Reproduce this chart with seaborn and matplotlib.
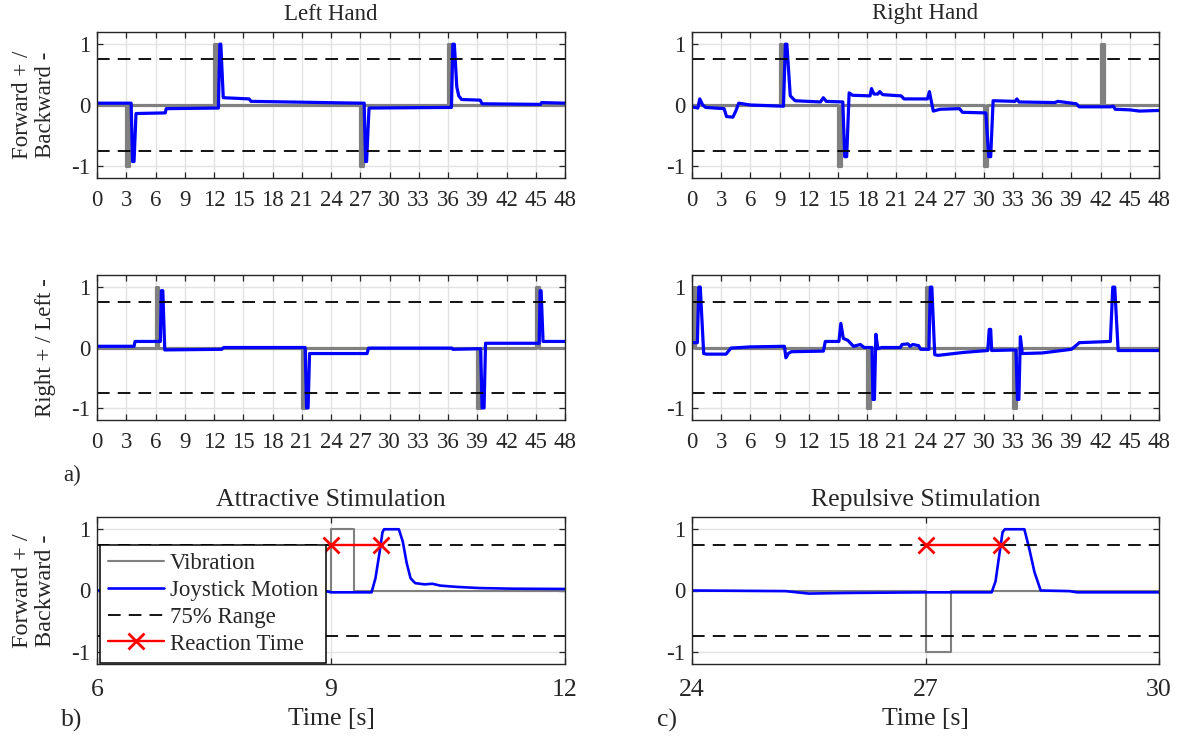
import matplotlib
matplotlib.use("Agg")
import matplotlib.pyplot as plt
import numpy as np
import seaborn as sns

# Stimulus level and reference band
RANGE_LEVEL = 0.75

# a) Left hand, forward/backward
LH_FB_VIB_T = [0, 3, 3, 3.3, 3.3, 12, 12, 12.3, 12.3, 27, 27, 27.3, 27.3, 36, 36, 36.3, 36.3, 48]
LH_FB_VIB_V = [0, 0, -1, -1, 0, 0, 1, 1, 0, 0, -1, -1, 0, 0, 1, 1, 0, 0]
LH_FB_JOY_T = [0, 3.5, 3.65, 3.8, 4.0, 7.0, 7.1, 12.45, 12.6, 12.7, 12.95, 15.6, 15.8, 27.0,
               27.4, 27.55, 27.65, 27.9, 36.35, 36.5, 36.65, 36.9, 37.1, 37.4, 39.3, 39.5,
               45.5, 45.6, 48]
LH_FB_JOY_V = [0.03, 0.03, -0.93, -0.93, -0.14, -0.13, -0.06, -0.05, 1.0, 1.0, 0.12, 0.1, 0.06,
               0.03, 0.03, -0.93, -0.93, -0.05, -0.04, 1.0, 1.0, 0.3, 0.15, 0.09, 0.08, 0.02,
               0.01, 0.04, 0.03]

# a) Right hand, forward/backward
RH_FB_VIB_T = [0, 9, 9, 9.3, 9.3, 15, 15, 15.3, 15.3, 30, 30, 30.3, 30.3, 42, 42, 42.3, 42.3, 48]
RH_FB_VIB_V = [0, 0, 1, 1, 0, 0, -1, -1, 0, 0, -1, -1, 0, 0, 1, 1, 0, 0]
RH_FB_JOY_T = [0, 0.6, 0.8, 1.1, 1.4, 3.3, 3.55, 4.2, 4.5, 4.8, 6.0, 9.4, 9.6, 9.75, 10.1, 10.6,
               13.2, 13.5, 13.8, 15.5, 15.7, 15.9, 16.15, 16.5, 18.3, 18.45, 18.7, 19.1, 19.3,
               19.6, 21.5, 21.8, 24.2, 24.4, 24.55, 24.8, 25.5, 27.5, 27.8, 30.2, 30.5, 30.7,
               30.95, 33.2, 33.4, 33.6, 37.3, 37.6, 39.5, 39.8, 43.0, 43.3, 43.5, 45.0, 46.0, 48]
RH_FB_JOY_V = [-0.03, -0.05, 0.1, 0.0, -0.04, -0.06, -0.19, -0.2, -0.1, 0.03, 0.0, -0.02, 1.0,
               1.0, 0.15, 0.07, 0.05, 0.12, 0.06, 0.05, -0.85, -0.85, 0.2, 0.16, 0.15, 0.27,
               0.18, 0.18, 0.22, 0.17, 0.15, 0.1, 0.1, 0.22, 0.1, -0.1, -0.07, -0.06, -0.12,
               -0.13, -0.85, -0.85, 0.07, 0.06, 0.1, 0.05, 0.04, 0.06, 0.02, -0.03, -0.03,
               -0.02, -0.07, -0.08, -0.1, -0.09]

# a) Left hand, right/left
LH_RL_VIB_T = [0, 6, 6, 6.3, 6.3, 21, 21, 21.3, 21.3, 39, 39, 39.3, 39.3, 45, 45, 45.3, 45.3, 48]
LH_RL_VIB_V = [0, 0, 1, 1, 0, 0, -1, -1, 0, 0, -1, -1, 0, 0, 1, 1, 0, 0]
LH_RL_JOY_T = [0, 3.8, 3.9, 6.5, 6.6, 6.75, 6.95, 12.8, 13.0, 21.35, 21.5, 21.65, 21.8, 27.7,
               27.85, 36.4, 36.5, 39.35, 39.5, 39.7, 39.85, 45.35, 45.45, 45.55, 45.75, 48]
LH_RL_JOY_V = [0.02, 0.02, 0.1, 0.1, 0.94, 0.94, -0.04, -0.03, 0.0, 0.0, -1.0, -1.0, -0.1, -0.1,
               -0.01, -0.01, -0.03, -0.02, -1.0, -1.0, 0.07, 0.07, 0.94, 0.94, 0.1, 0.1]

# a) Right hand, right/left
RH_RL_VIB_T = [0, 0, 0.3, 0.3, 18, 18, 18.3, 18.3, 24, 24, 24.3, 24.3, 33, 33, 33.3, 33.3, 48]
RH_RL_VIB_V = [0, 1, 1, 0, 0, -1, -1, 0, 0, 1, 1, 0, 0, -1, -1, 0, 0]
RH_RL_JOY_T = [0, 0.55, 0.7, 0.85, 1.2, 1.5, 3.5, 4.0, 6.0, 9.5, 9.65, 9.9, 10.2, 13.5, 13.7,
               15.1, 15.3, 15.55, 16.0, 16.6, 17.3, 17.7, 18.5, 18.6, 18.75, 18.9, 19.1, 19.5,
               21.4, 21.6, 22.2, 22.4, 22.7, 23.3, 23.5, 24.35, 24.5, 24.65, 24.95, 25.3, 28.0,
               30.4, 30.55, 30.7, 30.8, 33.3, 33.45, 33.6, 33.75, 33.95, 36.0, 39.0, 39.6, 39.8,
               43.0, 43.25, 43.45, 43.8, 48]
RH_RL_JOY_V = [0.08, 0.08, 1.0, 1.0, -0.1, -0.11, -0.11, -0.01, 0.01, 0.02, -0.17, -0.1, -0.07,
               -0.06, 0.1, 0.1, 0.4, 0.15, 0.12, 0.02, 0.05, 0.0, 0.0, -0.86, -0.86, 0.22, -0.02,
               0.0, 0.0, 0.05, 0.06, 0.02, 0.05, 0.03, -0.03, -0.03, 1.0, 1.0, -0.12, -0.13,
               -0.08, -0.05, 0.3, 0.3, -0.05, -0.04, -0.86, -0.86, 0.18, -0.1, -0.09, -0.03,
               0.05, 0.08, 0.1, 1.0, 1.0, -0.05, -0.05]

# b) Attractive stimulation (zoom)
ATT_VIB_T = [6, 9, 9, 9.3, 9.3, 12]
ATT_VIB_V = [0, 0, 1, 1, 0, 0]
ATT_JOY_T = [6, 8.9, 9.0, 9.52, 9.57, 9.62, 9.66, 9.68, 9.87, 9.92, 9.97, 10.02, 10.08, 10.2,
             10.3, 10.4, 10.6, 10.9, 11.3, 12]
ATT_JOY_V = [0.0, 0.0, -0.03, -0.03, 0.2, 0.6, 0.95, 1.0, 1.0, 0.8, 0.45, 0.2, 0.12, 0.1, 0.11,
             0.08, 0.06, 0.04, 0.03, 0.025]
ATT_RT_T = [9.0, 9.64]

# c) Repulsive stimulation (zoom)
REP_VIB_T = [24, 27, 27, 27.33, 27.33, 30]
REP_VIB_V = [0, 0, -1, -1, 0, 0]
REP_JOY_T = [24, 25.2, 25.5, 26.0, 27.0, 27.85, 27.9, 27.95, 27.99, 28.02, 28.27, 28.33, 28.4,
             28.48, 28.85, 28.95, 30]
REP_JOY_V = [0.0, -0.01, -0.05, -0.04, -0.03, -0.03, 0.15, 0.6, 0.95, 1.0, 1.0, 0.7, 0.3, 0.0,
             -0.01, -0.03, -0.03]
REP_RT_T = [27.0, 27.97]

FULL_TICKS = list(range(0, 49, 3))
ATT_TICKS = [6, 9, 12]
REP_TICKS = [24, 27, 30]

GRAY = "#808080"
BLUE = "#0000ff"
RED = "#ff0000"
AXCOL = "#262626"
FS = 16.5
FS_BIG = 18.5

sns.set_theme(style="ticks")
plt.rcParams["font.family"] = ["Liberation Serif", "DejaVu Serif"]
plt.rcParams["axes.unicode_minus"] = False


def style_axis(ax, xticks, xlim, xfs, xpad):
    ax.set_xlim(*xlim)
    ax.set_ylim(-1.2, 1.2)
    ax.set_xticks(xticks)
    ax.set_yticks([-1, 0, 1])
    ax.set_yticklabels(["-1", "0", "1"])
    ax.grid(True, color="#e2e2e2", linewidth=1.0)
    ax.set_axisbelow(True)
    ax.tick_params(direction="in", top=True, right=True, length=4, width=0.9,
                   color=AXCOL, labelcolor=AXCOL, labelsize=FS)
    ax.tick_params(axis="x", pad=xpad, labelsize=xfs)
    ax.tick_params(axis="y", pad=5)
    for sp in ax.spines.values():
        sp.set_color(AXCOL)
        sp.set_linewidth(1.0)
    ax.set_xlabel("")
    ax.set_ylabel("")


def draw_panel(ax, vib_t, vib_v, joy_t, joy_v, xticks, xlim, lw_vib, lw_joy,
               xfs=FS, xpad=9, labels=False):
    sns.lineplot(x=vib_t, y=vib_v, ax=ax, color=GRAY, linewidth=lw_vib,
                 estimator=None, sort=False, label="Vibration" if labels else None)
    sns.lineplot(x=joy_t, y=joy_v, ax=ax, color=BLUE, linewidth=lw_joy,
                 estimator=None, sort=False, label="Joystick Motion" if labels else None)
    for i, lvl in enumerate([RANGE_LEVEL, -RANGE_LEVEL]):
        ax.axhline(lvl, color="black", linewidth=1.3, dashes=(7, 4.5),
                   label="75% Range" if (labels and i == 0) else None)
    style_axis(ax, xticks, xlim, xfs, xpad)


fig = plt.figure(figsize=(11.78, 7.36), dpi=100)
W, H = 1178, 736


def add_ax(left, top, right, bottom):
    return fig.add_axes([left / W, 1 - bottom / H, (right - left) / W, (bottom - top) / H])


ax_lfb = add_ax(97, 32, 565, 178)
ax_rfb = add_ax(692, 32, 1159, 178)
ax_lrl = add_ax(97, 275, 565, 420)
ax_rrl = add_ax(692, 275, 1159, 420)
ax_att = add_ax(97, 517, 565, 664)
ax_rep = add_ax(692, 517, 1159, 664)

draw_panel(ax_lfb, LH_FB_VIB_T, LH_FB_VIB_V, LH_FB_JOY_T, LH_FB_JOY_V, FULL_TICKS, (0, 48), 2.3, 2.3)
draw_panel(ax_rfb, RH_FB_VIB_T, RH_FB_VIB_V, RH_FB_JOY_T, RH_FB_JOY_V, FULL_TICKS, (0, 48), 2.3, 2.3)
draw_panel(ax_lrl, LH_RL_VIB_T, LH_RL_VIB_V, LH_RL_JOY_T, LH_RL_JOY_V, FULL_TICKS, (0, 48), 2.3, 2.3)
draw_panel(ax_rrl, RH_RL_VIB_T, RH_RL_VIB_V, RH_RL_JOY_T, RH_RL_JOY_V, FULL_TICKS, (0, 48), 2.3, 2.3)
draw_panel(ax_att, ATT_VIB_T, ATT_VIB_V, ATT_JOY_T, ATT_JOY_V, ATT_TICKS, (6, 12), 1.5, 1.9,
           xfs=FS_BIG, xpad=11, labels=True)
draw_panel(ax_rep, REP_VIB_T, REP_VIB_V, REP_JOY_T, REP_JOY_V, REP_TICKS, (24, 30), 1.5, 1.9,
           xfs=FS_BIG, xpad=11)

# reaction time markers
for ax, rt, lab in [(ax_att, ATT_RT_T, "Reaction Time"), (ax_rep, REP_RT_T, None)]:
    sns.lineplot(x=rt, y=[RANGE_LEVEL] * len(rt), ax=ax, color=RED, linewidth=1.7,
                 marker="x", markersize=12, markeredgewidth=2.0, markeredgecolor=RED,
                 estimator=None, sort=False, label=lab)
    ax.set_xlabel("")
    ax.set_ylabel("")

ax_lfb.set_title("Left Hand", fontsize=FS, pad=9)
ax_rfb.set_title("Right Hand", fontsize=FS, pad=9)
ax_att.set_title("Attractive Stimulation", fontsize=FS_BIG, pad=8)
ax_rep.set_title("Repulsive Stimulation", fontsize=FS_BIG, pad=8)

for ax, txt, fs in [(ax_lfb, "Forward + /\nBackward -", FS), (ax_lrl, "Right + / Left -", FS),
                    (ax_att, "Forward + /\nBackward -", 17.5)]:
    ax.set_ylabel(txt, fontsize=fs, color=AXCOL, linespacing=1.15)
    ax.yaxis.set_label_coords(-0.087, 0.5)

for ax in (ax_att, ax_rep):
    ax.set_xlabel("Time [s]", fontsize=FS_BIG, color=AXCOL, labelpad=5)

leg = ax_att.legend(loc="lower left", bbox_to_anchor=(0.006, 0.01), borderaxespad=0,
                    fontsize=FS, frameon=True, fancybox=False, framealpha=1,
                    edgecolor="black", handlelength=2.45, handletextpad=0.25,
                    labelspacing=0.25, borderpad=0.35)
leg.get_frame().set_linewidth(1.1)
for t in leg.get_texts():
    t.set_color(AXCOL)

fig.text(72 / W, 1 - 475 / H, "a)", fontsize=FS, ha="center", va="center", color=AXCOL)
fig.text(72 / W, 1 - 720 / H, "b)", fontsize=FS_BIG, ha="center", va="center", color=AXCOL)
fig.text(667 / W, 1 - 720 / H, "c)", fontsize=FS_BIG, ha="center", va="center", color=AXCOL)

fig.savefig("out.png", dpi=100, facecolor="white")
plt.close(fig)
